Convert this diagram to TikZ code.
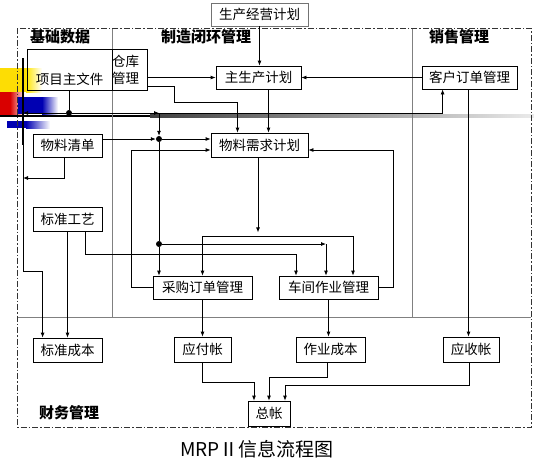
\documentclass[tikz,border=0pt]{standalone}
\usepackage{fontspec}
\setmainfont{Noto Sans CJK SC}
\usetikzlibrary{arrows.meta}
\begin{document}
\begin{tikzpicture}[x=1pt,y=-1pt,
  box/.style={draw=black, line width=0.8pt, inner sep=0pt, font=\fontsize{13.5}{17}\selectfont},
  sec/.style={font=\fontsize{15}{17}\selectfont\bfseries, inner sep=0pt},
  arr/.style={-{Latex[length=5pt,width=4pt]}, line width=0.8pt},
  ln/.style={line width=0.8pt},
  dot/.style={circle, fill=black, inner sep=0pt, minimum size=6pt},
  divider/.style={draw=black!50, line width=0.8pt},
  frame/.style={draw=black!80, line width=0.8pt, dash pattern=on 6pt off 2pt on 1.5pt off 2pt}]
\useasboundingbox (0,0) rectangle (534,461);
\fill[white] (0,0) rectangle (534,461);
% template decoration
\fill[yellow!80!orange] (0,68) rectangle (26,92);
\shade[left color=yellow!80!orange, right color=white] (26,68) rectangle (42,92);
\fill[red!85!black] (0,92) rectangle (10,116);
\shade[left color=red!85!black, right color=red!10] (10,92) rectangle (24,116);
\fill[blue!70!black] (18,97) rectangle (42,114);
\shade[left color=blue!70!black, right color=white] (42,97) rectangle (58,114);
\fill[blue!70!black] (7,121) rectangle (26,128);
\shade[left color=blue!70!black, right color=white] (26,121) rectangle (50,128);
\draw[line width=2pt] (23,58) -- (23,145);
\draw[line width=2.4pt] (0,116) -- (150,116);
\shade[left color=black!75, right color=black!8] (150,114.8) rectangle (534,117.2);
% frame and dividers
\draw[divider] (112,28) -- (112,317);
\draw[divider] (412,28) -- (412,317);
\draw[divider] (17,317) -- (531,317);
\draw[frame] (17,28) rectangle (531,427);
% section titles
\node[sec] (s1) at (60,37) {基础数据};
\node[sec] (s2) at (206,37) {制造闭环管理};
\node[sec] (s3) at (459,37) {销售管理};
\node[sec] (s4) at (69,413) {财务管理};
% boxes
\node[box, draw=black!55, minimum width=97pt, minimum height=23pt] (plan) at (259.5,14.5) {生产经营计划};
\node[box, minimum width=85pt, minimum height=23pt] (mps) at (258.5,77.5) {主生产计划};
\node[box, minimum width=95pt, minimum height=23pt] (cust) at (469.5,77.5) {客户订单管理};
\node[box, minimum width=85pt, minimum height=41pt, text height=29pt, text depth=0pt] (item) at (69.5,69.5) {项目主文件};
\node[box, minimum width=35pt, minimum height=41pt, text width=35pt, align=left] (wh) at (129.5,69.5) {仓库\\管理};
\node[box, minimum width=69pt, minimum height=23pt] (bom) at (67.5,145.5) {物料清单};
\node[box, minimum width=97pt, minimum height=24pt] (mrp) at (259.5,145) {物料需求计划};
\node[box, minimum width=69pt, minimum height=24pt] (route) at (67.5,219) {标准工艺};
\node[box, minimum width=99pt, minimum height=23pt] (po) at (202.5,287.5) {采购订单管理};
\node[box, minimum width=99pt, minimum height=23pt] (shop) at (328.5,287.5) {车间作业管理};
\node[box, minimum width=69pt, minimum height=24pt] (stdc) at (67.5,350) {标准成本};
\node[box, minimum width=57pt, minimum height=25pt] (ap) at (202.5,349.5) {应付帐};
\node[box, minimum width=69pt, minimum height=25pt] (ac) at (330.5,349.5) {作业成本};
\node[box, minimum width=56pt, minimum height=25pt] (ar) at (471,349.5) {应收帐};
\node[box, minimum width=42pt, minimum height=25pt] (gl) at (269,413.5) {总帐};
% junctions
\node[dot] (d1) at (69,113) {};
\node[dot] (d2) at (159,139) {};
\node[dot] (d3) at (159,244) {};
\coordinate (L) at (23,113);
\coordinate (jm) at (258,236);
% connectors
\draw[arr] (plan.south) -- (plan.south |- mps.north);
\draw[arr] (wh.east |- mps) -- (mps.west);
\draw[arr] (cust.west) -- (mps.east);
\draw[arr] ([yshift=4pt]wh.south east) -| (174,102) -| ([xshift=-22pt]mrp.north);
\draw[arr] ([xshift=10pt]mps.south) -- ([xshift=10pt]mps.south |- mrp.north);
\draw[ln] (d1 |- item.south) -- (d1);
\draw[arr] (d1) -- (L);
\draw[arr] (d1) -| ([xshift=21pt]cust.south west);
\draw[arr] (d1) -- (d2 |- d1);
\draw[arr] (d2 |- d1) -- (d2);
\draw[arr] (bom.east |- d2) -- (d2);
\draw[arr] (d2) -- (d2 -| mrp.west);
\draw[arr] (L) -- (23,271) -| ([xshift=10pt]stdc.north west);
\draw[arr] ([xshift=-3.5pt]bom.south) |- (L |- 0,178);
\draw[arr] (route.south) -- (route.south |- stdc.north);
\draw[arr] ([xshift=18pt]route.south) -- ++(0,23) -| ([xshift=-32.5pt]shop.north);
\draw[arr] ([xshift=-1.5pt]mrp.south) -- ++(0,75);
\draw[arr] (jm) -| (po.north);
\draw[arr] (jm) -| ([xshift=24.5pt]shop.north);
\draw[ln] (d2) -- (d3);
\draw[arr] (d3) -- (d3 |- po.north);
\draw[arr] (d3) -- ([xshift=-2.5pt]shop.north |- d3);
\draw[arr] ([xshift=-2.5pt]shop.north |- d3) -- ([xshift=-2.5pt]shop.north);
\draw[arr] (po.west) -- ++(-21,0) |- ([yshift=-5pt]mrp.west);
\draw[arr] (shop.east) -- ++(15,0) |- ([yshift=-5pt]mrp.east);
\draw[arr] (po.south) -- (po.south |- ap.north);
\draw[arr] (shop.south) -- (shop.south |- ac.north);
\draw[arr] ([xshift=-1pt]cust.south) -- ([xshift=-1pt]cust.south |- ar.north);
\draw[arr] (ap.south) -- ++(0,20) -| ([xshift=-15pt]gl.north);
\draw[arr] ([xshift=-3pt]ac.south) -- ++(0,15) -| (gl.north);
\draw[arr] ([xshift=-2pt]ar.south) -- ++(0,23) -| ([xshift=16pt]gl.north);
% title
\node[font=\fontsize{19}{21}\selectfont, inner sep=0pt] (title) at (257,449) {MRPⅡ信息流程图};
\end{tikzpicture}
\end{document}
